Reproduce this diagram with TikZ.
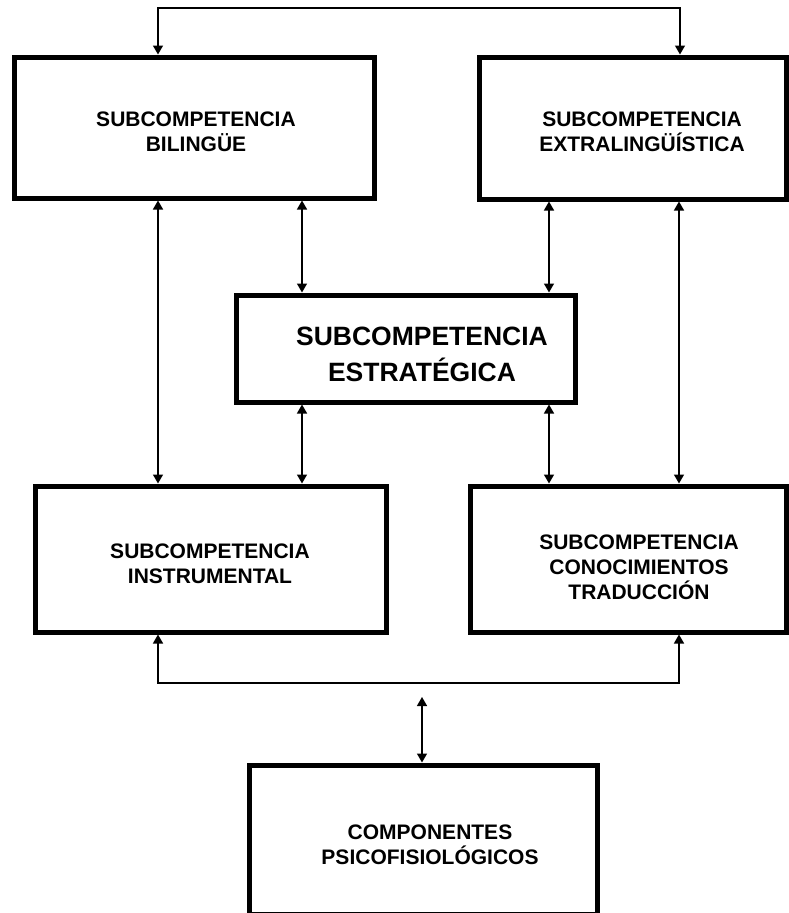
\documentclass[tikz,border=0pt]{standalone}
\usepackage{fontspec}
\setmainfont{Liberation Sans}
\usetikzlibrary{arrows.meta}
\begin{document}
\begin{tikzpicture}[x=1pt,y=-1pt,
  box/.style={draw=black,line width=5pt,rectangle,inner sep=0pt},
  lbl/.style={align=center,font=\bfseries\fontsize{21}{25}\selectfont},
  biglbl/.style={align=center,font=\bfseries\fontsize{26.5}{36}\selectfont},
  conn/.style={draw=black,line width=1.4pt,{Triangle[width=10pt,length=9pt]}-{Triangle[width=10pt,length=9pt]}}]
\useasboundingbox (0,0) rectangle (789,913);
% boxes
\node[box,minimum width=360,minimum height=141] (bil) at (194,127.5) {};
\node[box,minimum width=307,minimum height=142] (ext) at (632.5,128) {};
\node[box,minimum width=339,minimum height=107] (est) at (405.5,348.5) {};
\node[box,minimum width=351,minimum height=146] (ins) at (210.5,559) {};
\node[box,minimum width=316,minimum height=146] (con) at (628,559) {};
\node[box,minimum width=348,minimum height=149] (comp) at (423,839.5) {};
% texts
\node[lbl] (tbil) at (196,132) {SUBCOMPETENCIA\\BILINGÜE};
\node[lbl] (text) at (642,132) {SUBCOMPETENCIA\\EXTRALINGÜÍSTICA};
\node[biglbl] (test) at (422,354) {SUBCOMPETENCIA\\ESTRATÉGICA};
\node[lbl] (tins) at (210,564) {SUBCOMPETENCIA\\INSTRUMENTAL};
\node[lbl] (tcon) at (639,567) {SUBCOMPETENCIA\\CONOCIMIENTOS\\TRADUCCIÓN};
\node[lbl] (tcomp) at (430,845) {COMPONENTES\\PSICOFISIOLÓGICOS};
% helper coordinates
\coordinate (cA) at (158,8);
\coordinate (cB) at (680,8);
\coordinate (x1) at (158,0);
\coordinate (x2) at (302,0);
\coordinate (x3) at (549,0);
\coordinate (x4) at (679,0);
\coordinate (cC) at (158,683);
\coordinate (cD) at (679,683);
\coordinate (cM) at (422,697);
% connectors
\draw[conn] (bil.north -| cA) -- (cA) -- (cB) -- (ext.north -| cB);
\draw[conn] (bil.south -| x1) -- (ins.north -| x1);
\draw[conn] (bil.south -| x2) -- (est.north -| x2);
\draw[conn] (est.south -| x2) -- (ins.north -| x2);
\draw[conn] (ext.south -| x3) -- (est.north -| x3);
\draw[conn] (est.south -| x3) -- (con.north -| x3);
\draw[conn] (ext.south -| x4) -- (con.north -| x4);
\draw[conn] (ins.south -| cC) -- (cC) -- (cD) -- (con.south -| cD);
\draw[conn] (cM) -- (comp.north -| cM);
\end{tikzpicture}
\end{document}
